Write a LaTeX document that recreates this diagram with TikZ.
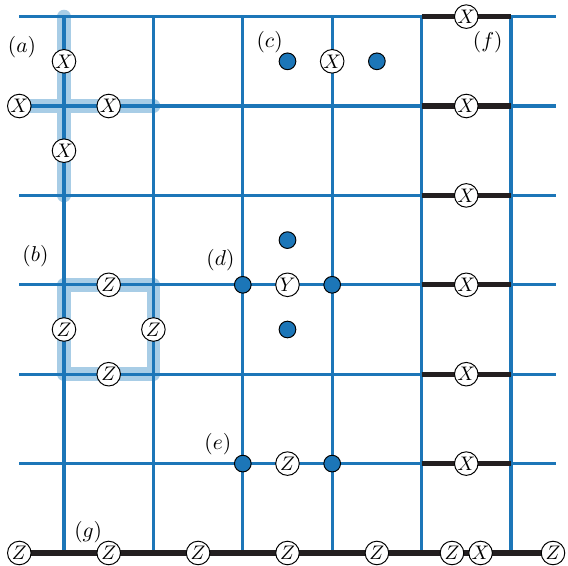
\documentclass[tikz,border=0pt]{standalone}
\usepackage{tikz}

\definecolor{latblue}{RGB}{28,118,184}
\definecolor{latlight}{RGB}{168,205,230}
\definecolor{latdark}{RGB}{35,31,32}

\begin{document}
\begin{tikzpicture}[x=1.6cm, y=1.6cm,
  op/.style={circle, draw=black, fill=white, line width=0.5pt, inner sep=0pt, minimum size=12pt, font=\normalsize},
  qb/.style={circle, draw=black, fill=latblue, line width=0.5pt, inner sep=0pt, minimum size=8.5pt},
  lbl/.style={font=\fontsize{11}{13}\selectfont},
  hl/.style={latlight, line width=7pt, line cap=round, line join=round},
  lat/.style={latblue, line width=1.7pt},
  edge/.style={latdark, line width=2.6pt}]
  \useasboundingbox (-0.716,-0.145) rectangle (5.638,6.186);

  % highlighted strings
  \draw[hl] (0,4) -- (0,6);
  \draw[hl] (-0.5,5) -- (1,5);
  \draw[hl] (0,2) rectangle (1,3);

  % lattice
  \foreach \y in {1,...,6} { \draw[lat] (-0.5,\y) -- (5.5,\y); }
  \foreach \x in {0,...,5} { \draw[lat] (\x,0) -- (\x,6); }

  % boundary edges
  \foreach \y in {1,...,6} { \draw[edge] (4,\y) -- (5,\y); }
  \draw[edge] (-0.5,0) -- (5.5,0);

  % (a) star of X
  \node[op] (ax1) at (0,5.5) {$X$};
  \node[op] (ax2) at (-0.5,5) {$X$};
  \node[op] (ax3) at (0.5,5) {$X$};
  \node[op] (ax4) at (0,4.5) {$X$};
  \node[lbl] (la) at (-0.47,5.66) {$(a)$};

  % (b) plaquette of Z
  \node[op] (bz1) at (0.5,3) {$Z$};
  \node[op] (bz2) at (0,2.5) {$Z$};
  \node[op] (bz3) at (1,2.5) {$Z$};
  \node[op] (bz4) at (0.5,2) {$Z$};
  \node[lbl] (lb) at (-0.32,3.32) {$(b)$};

  % (c)
  \node[qb] (cq1) at (2.5,5.5) {};
  \node[op] (cx) at (3,5.5) {$X$};
  \node[qb] (cq2) at (3.5,5.5) {};
  \node[lbl] (lc) at (2.3,5.72) {$(c)$};

  % (d)
  \node[qb] (dq1) at (2,3) {};
  \node[op] (dy) at (2.5,3) {$Y$};
  \node[qb] (dq2) at (3,3) {};
  \node[qb] (dq3) at (2.5,3.5) {};
  \node[qb] (dq4) at (2.5,2.5) {};
  \node[lbl] (ld) at (1.75,3.28) {$(d)$};

  % (e)
  \node[qb] (eq1) at (2,1) {};
  \node[op] (ez) at (2.5,1) {$Z$};
  \node[qb] (eq2) at (3,1) {};
  \node[lbl] (le) at (1.72,1.22) {$(e)$};

  % (f) X on the boundary rungs
  \foreach \y in {1,...,6} { \node[op] (fx\y) at (4.5,\y) {$X$}; }
  \node[lbl] (lf) at (4.74,5.72) {$(f)$};

  % (g) Z along the bottom boundary
  \foreach \x [count=\i] in {-0.5,0.5,1.5,2.5,3.5,4.34,5.47} { \node[op] (gz\i) at (\x,0) {$Z$}; }
  \node[op] (gx) at (4.66,0) {$X$};
  \node[lbl] (lg) at (0.27,0.23) {$(g)$};
\end{tikzpicture}
\end{document}
